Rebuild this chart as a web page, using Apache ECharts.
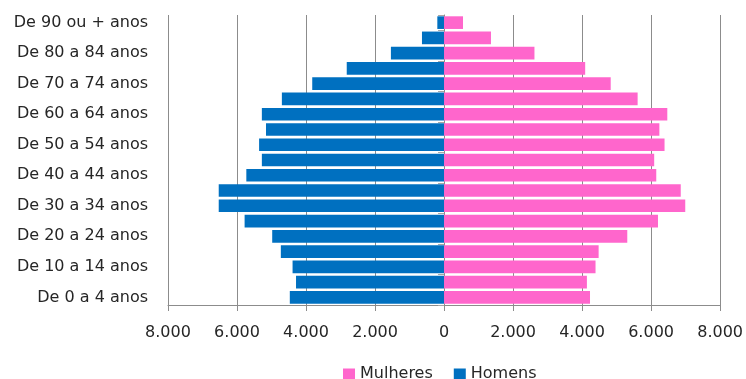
<!DOCTYPE html>
<html>
<head>
<meta charset="utf-8">
<script src="https://cdn.jsdelivr.net/npm/echarts@6/dist/echarts.min.js"></script>
<style>
  html, body { margin: 0; padding: 0; background: #fff; }
  #chart { width: 746px; height: 379px; }
</style>
</head>
<body>
<div id="chart"></div>
<script>
// Faixas etárias, de baixo para cima
const ageGroups = [
  "De 0 a 4 anos", "De 5 a 9 anos", "De 10 a 14 anos", "De 15 a 19 anos",
  "De 20 a 24 anos", "De 25 a 29 anos", "De 30 a 34 anos", "De 35 a 39 anos",
  "De 40 a 44 anos", "De 45 a 49 anos", "De 50 a 54 anos", "De 55 a 59 anos",
  "De 60 a 64 anos", "De 65 a 69 anos", "De 70 a 74 anos", "De 75 a 79 anos",
  "De 80 a 84 anos", "De 85 a 89 anos", "De 90 ou + anos"
];

// População por sexo em cada faixa
const homens = [4470, 4290, 4390, 4730, 4980, 5780, 6530, 6530, 5730, 5280,
                5360, 5160, 5280, 4700, 3820, 2820, 1540, 640, 195];
const mulheres = [4230, 4140, 4390, 4480, 5310, 6200, 6990, 6860, 6150, 6090,
                  6390, 6240, 6470, 5610, 4830, 4090, 2620, 1360, 550];

const axisMin = -8000;
const axisMax = 8000;
const axisStep = 2000;

const FONT = "DejaVu Sans";
const TEXT = "#262626";
const GRID = "#8c8c8c";

function fmt(v) {
  const n = Math.abs(v);
  return n.toString().replace(/\B(?=(\d{3})+(?!\d))/g, ".");
}

const chart = echarts.init(document.getElementById("chart"), null, { renderer: "canvas" });

chart.setOption({
  animation: false,
  textStyle: { fontFamily: FONT },
  grid: { left: 168, right: 25, top: 15, bottom: 74, containLabel: false },
  legend: {
    data: ["Mulheres", "Homens"],
    top: 361,
    left: 338,
    itemWidth: 12,
    itemHeight: 11,
    itemGap: 21,
    icon: "rect",
    textStyle: { fontFamily: FONT, fontSize: 16, color: TEXT }
  },
  xAxis: {
    type: "value",
    min: axisMin,
    max: axisMax,
    interval: axisStep,
    axisLine: { show: true, onZero: false, lineStyle: { color: GRID, width: 1 } },
    axisTick: { show: true, length: 6, lineStyle: { color: GRID } },
    splitLine: { show: true, lineStyle: { color: GRID, width: 1 } },
    axisLabel: { fontFamily: FONT, fontSize: 16, color: TEXT, margin: 20, formatter: fmt }
  },
  yAxis: [
    {
      type: "category",
      data: ageGroups,
      position: "left",
      axisLine: { show: false, onZero: false },
      axisTick: { show: false },
      splitLine: { show: false },
      axisLabel: { interval: 1, fontFamily: FONT, fontSize: 16, color: TEXT, margin: 20 }
    },
    {
      type: "category",
      data: ageGroups,
      position: "left",
      axisLine: { show: true, onZero: true, lineStyle: { color: GRID } },
      axisTick: { show: true, length: 6, lineStyle: { color: "#a6a6a6" } },
      axisLabel: { show: false },
      splitLine: { show: false }
    }
  ],
  series: [
    {
      name: "Homens",
      type: "bar",
      yAxisIndex: 0,
      barGap: "-100%",
      barCategoryGap: "17%",
      itemStyle: { color: "#0070C0" },
      data: homens.map(v => -v)
    },
    {
      name: "Mulheres",
      type: "bar",
      yAxisIndex: 0,
      barGap: "-100%",
      barCategoryGap: "17%",
      itemStyle: { color: "#FF66CC" },
      data: mulheres
    }
  ]
});
</script>
</body>
</html>
